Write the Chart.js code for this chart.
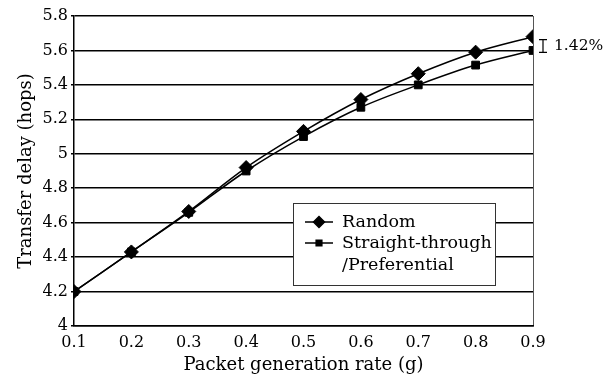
<!DOCTYPE html>
<html>
<head>
<meta charset="utf-8">
<script src="https://cdn.jsdelivr.net/npm/chart.js@4/dist/chart.umd.min.js"></script>
<style>
  html, body { margin: 0; padding: 0; background: #fff; }
  #wrap { width: 607px; height: 378px; }
</style>
</head>
<body>
<div id="wrap"><canvas id="graph" width="607" height="378"></canvas></div>
<script>
const rates = [0.1, 0.2, 0.3, 0.4, 0.5, 0.6, 0.7, 0.8, 0.9];
const randomDelay = [4.2, 4.43, 4.665, 4.92, 5.13, 5.315, 5.465, 5.59, 5.68];
const straightDelay = [4.2, 4.43, 4.66, 4.9, 5.1, 5.27, 5.4, 5.515, 5.6];
const seriesNames = ["Random", ["Straight-through", "/Preferential"]];
const gapLabel = "1.42%";

const FONT = "'DejaVu Serif', 'Liberation Serif', serif";

function toPoints(ys) {
  return rates.map((x, i) => ({ x: x, y: ys[i] }));
}

// legend box inside the plot + the 1.42% bracket on the right
const extras = {
  id: "extras",
  afterDraw(chart) {
    const ctx = chart.ctx;
    const area = chart.chartArea;
    const metas = [chart.getDatasetMeta(0), chart.getDatasetMeta(1)];

    // legend
    const bx = area.left + 219, by = area.top + 187, bw = 202, bh = 82;
    ctx.save();
    ctx.fillStyle = "#fff";
    ctx.fillRect(bx, by, bw, bh);
    ctx.strokeStyle = "#333";
    ctx.lineWidth = 1;
    ctx.strokeRect(bx + 0.5, by + 0.5, bw, bh);
    ctx.font = "17.5px " + FONT;
    ctx.fillStyle = "#000";
    ctx.textBaseline = "middle";
    const rows = [by + 19, by + 40];
    seriesNames.forEach((name, i) => {
      const ds = chart.data.datasets[i];
      const y = rows[i];
      ctx.strokeStyle = "#000";
      ctx.lineWidth = 1.5;
      ctx.beginPath();
      ctx.moveTo(bx + 12, y);
      ctx.lineTo(bx + 40, y);
      ctx.stroke();
      ctx.fillStyle = "#000";
      Chart.helpers.drawPoint(ctx, {
        pointStyle: ds.pointStyle, radius: ds.pointRadius - 1.5, borderWidth: 1, rotation: 0
      }, bx + 26, y);
      const lines = Array.isArray(name) ? name : [name];
      lines.forEach((t, j) => ctx.fillText(t, bx + 49, y + j * 22));
    });

    // bracket showing the gap at the last point
    const n = rates.length - 1;
    const y1 = metas[0].data[n].y, y2 = metas[1].data[n].y;
    const x = area.right + 10;
    ctx.strokeStyle = "#000";
    ctx.lineWidth = 1.2;
    ctx.beginPath();
    ctx.moveTo(x - 4, y1 + 3); ctx.lineTo(x + 4, y1 + 3);
    ctx.moveTo(x, y1 + 3); ctx.lineTo(x, y2 + 2);
    ctx.moveTo(x - 4, y2 + 2); ctx.lineTo(x + 4, y2 + 2);
    ctx.stroke();
    ctx.font = "15.5px " + FONT;
    ctx.textAlign = "left";
    ctx.fillText(gapLabel, x + 11, (y1 + y2) / 2 + 2);
    ctx.restore();
  }
};

const ctx = document.getElementById("graph").getContext("2d");

new Chart(ctx, {
  type: "line",
  data: {
    datasets: [{
      label: "Random",
      data: toPoints(randomDelay),
      borderColor: "#000",
      backgroundColor: "#000",
      borderWidth: 1.5,
      pointStyle: "rectRot",
      pointRadius: 7,
      pointBorderWidth: 1,
      tension: 0.35
    }, {
      label: "Straight-through /Preferential",
      data: toPoints(straightDelay),
      borderColor: "#000",
      backgroundColor: "#000",
      borderWidth: 1.5,
      pointStyle: "rect",
      pointRadius: 5.5,
      pointBorderWidth: 1,
      tension: 0.35
    }]
  },
  options: {
    responsive: false,
    animation: false,
    layout: { padding: { left: 0, right: 74, top: 16, bottom: 0 } },
    plugins: {
      legend: { display: false },
      tooltip: { enabled: false }
    },
    scales: {
      x: {
        type: "linear",
        min: 0.1,
        max: 0.9,
        afterFit(scale) { scale.height = 52; },
        ticks: {
          stepSize: 0.1,
          color: "#000",
          font: { family: FONT, size: 16 },
          padding: 7,
          callback: (v) => v.toFixed(1)
        },
        grid: {
          color: (c) => (c.tick && Math.abs(c.tick.value - 0.9) < 1e-6) ? "#555" : "transparent",
          lineWidth: 1,
          tickLength: 0
        },
        border: { color: "#000", width: 1.5 },
        title: {
          display: true,
          text: "Packet generation rate (g)",
          color: "#000",
          font: { family: FONT, size: 18 },
          padding: { top: 0, bottom: 2 }
        }
      },
      y: {
        min: 4,
        max: 5.8,
        afterFit(scale) { scale.width = 74; },
        ticks: {
          stepSize: 0.2,
          color: "#000",
          font: { family: FONT, size: 16 },
          padding: 3,
          callback: (v) => String(+v.toFixed(1))
        },
        grid: {
          color: "#000",
          lineWidth: 1.5,
          tickLength: 3
        },
        border: { color: "#000", width: 1.5 },
        title: {
          display: true,
          text: "Transfer delay (hops)",
          color: "#000",
          font: { family: FONT, size: 18 },
          padding: { top: 16, bottom: 0 }
        }
      }
    }
  },
  plugins: [extras]
});
</script>
</body>
</html>
